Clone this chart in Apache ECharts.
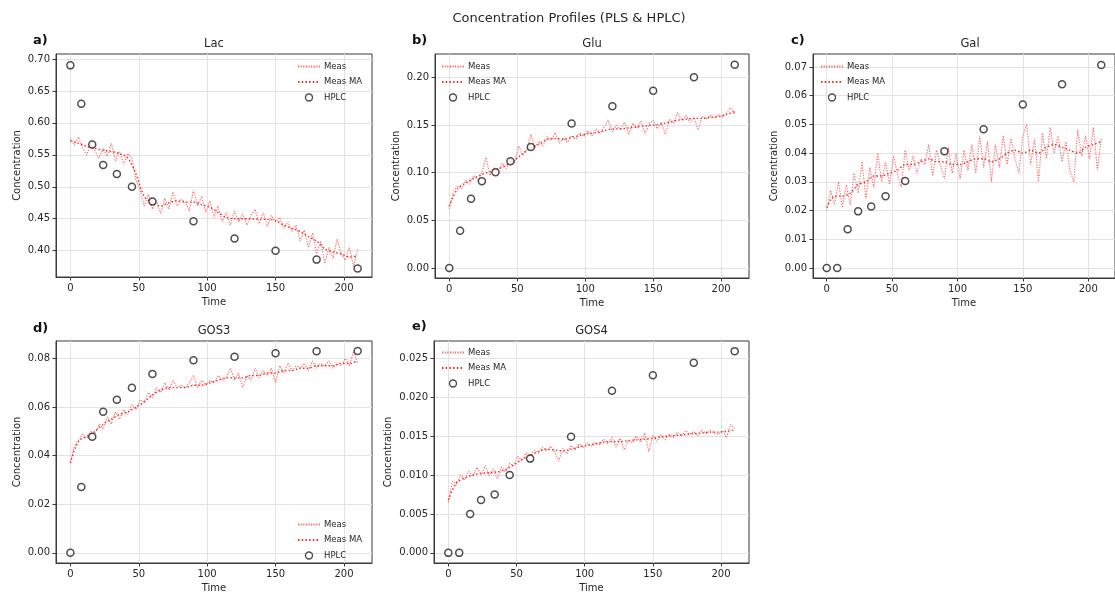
<!DOCTYPE html>
<html>
<head>
<meta charset="utf-8">
<script src="https://cdn.jsdelivr.net/npm/echarts@6/dist/echarts.min.js"></script>
<style>
html,body{margin:0;padding:0;background:#fff;}
#chart{width:1115px;height:594px;}
</style>
</head>
<body>
<div id="chart"></div>
<script>
// ---------- data ----------
const tMeas = [0,3,6,9,12,15,18,21,24,27,30,33,36,39,42,45,48,51,54,57,60,63,66,69,72,75,78,81,84,87,90,93,96,99,102,105,108,111,114,117,120,123,126,129,132,135,138,141,144,147,150,153,156,159,162,165,168,171,174,177,180,183,186,189,192,195,198,201,204,207,210];
const tMA = [0,6,12,18,24,30,36,42,48,54,60,66,72,78,84,90,96,102,108,114,120,126,132,138,144,150,156,162,168,174,180,186,192,198,204,210];
const tHPLC = [0,8,16,24,34,45,60,90,120,150,180,210];

const lacMeas = [0.576,0.565,0.578,0.560,0.550,0.568,0.556,0.545,0.560,0.548,0.568,0.540,0.555,0.535,0.552,0.545,0.510,0.495,0.470,0.488,0.465,0.478,0.458,0.482,0.465,0.492,0.470,0.480,0.476,0.462,0.495,0.470,0.485,0.460,0.478,0.452,0.470,0.445,0.460,0.440,0.462,0.445,0.458,0.440,0.455,0.465,0.442,0.460,0.438,0.455,0.445,0.452,0.435,0.445,0.430,0.440,0.415,0.432,0.405,0.428,0.395,0.415,0.380,0.405,0.388,0.418,0.395,0.385,0.405,0.375,0.402];
const lacMA = [0.572,0.568,0.563,0.560,0.557,0.555,0.552,0.545,0.520,0.485,0.475,0.470,0.475,0.478,0.476,0.476,0.472,0.468,0.460,0.452,0.450,0.450,0.450,0.449,0.449,0.447,0.440,0.435,0.430,0.422,0.415,0.403,0.398,0.395,0.390,0.392];
const lacHPLC = [0.690,0.630,0.566,0.534,0.520,0.500,0.477,0.446,0.419,0.400,0.386,0.372];

const gluMeas = [0.062,0.080,0.086,0.083,0.092,0.088,0.097,0.092,0.100,0.116,0.097,0.105,0.100,0.110,0.104,0.115,0.110,0.128,0.118,0.124,0.140,0.126,0.133,0.128,0.138,0.134,0.142,0.131,0.136,0.132,0.139,0.135,0.142,0.138,0.144,0.139,0.146,0.141,0.148,0.155,0.143,0.150,0.145,0.153,0.140,0.152,0.147,0.154,0.141,0.151,0.155,0.146,0.153,0.140,0.156,0.152,0.163,0.155,0.160,0.153,0.158,0.145,0.159,0.156,0.160,0.157,0.161,0.158,0.163,0.168,0.162];
const gluMA = [0.065,0.083,0.089,0.094,0.098,0.101,0.104,0.108,0.113,0.120,0.126,0.130,0.135,0.136,0.135,0.137,0.139,0.141,0.142,0.144,0.146,0.146,0.147,0.148,0.149,0.150,0.151,0.153,0.155,0.156,0.157,0.157,0.158,0.159,0.161,0.164];
const gluHPLC = [0.000,0.039,0.0726,0.0911,0.1005,0.112,0.127,0.1515,0.1696,0.186,0.200,0.2133];

const galMeas = [0.020,0.027,0.022,0.030,0.021,0.029,0.022,0.033,0.026,0.037,0.024,0.035,0.028,0.040,0.030,0.037,0.029,0.039,0.033,0.028,0.041,0.034,0.039,0.033,0.038,0.036,0.043,0.032,0.041,0.036,0.031,0.042,0.033,0.040,0.031,0.041,0.034,0.043,0.033,0.046,0.035,0.044,0.030,0.043,0.035,0.046,0.036,0.045,0.038,0.033,0.046,0.050,0.036,0.045,0.030,0.047,0.038,0.049,0.040,0.046,0.037,0.044,0.034,0.030,0.048,0.039,0.046,0.038,0.049,0.034,0.045];
const galMA = [0.021,0.025,0.025,0.026,0.029,0.030,0.032,0.032,0.033,0.034,0.036,0.036,0.037,0.038,0.037,0.037,0.036,0.036,0.037,0.038,0.038,0.037,0.038,0.040,0.041,0.040,0.041,0.040,0.042,0.043,0.042,0.041,0.040,0.042,0.043,0.044];
const galHPLC = [0.000,0.000,0.0135,0.0197,0.0214,0.0250,0.0303,0.0406,0.0483,0.0569,0.0640,0.0707];

const gos3Meas = [0.037,0.044,0.046,0.049,0.047,0.050,0.049,0.053,0.051,0.056,0.053,0.058,0.055,0.059,0.057,0.061,0.059,0.063,0.062,0.066,0.064,0.068,0.066,0.070,0.067,0.071,0.068,0.069,0.068,0.070,0.073,0.068,0.071,0.069,0.071,0.070,0.073,0.071,0.072,0.076,0.071,0.074,0.068,0.073,0.071,0.076,0.072,0.075,0.073,0.076,0.070,0.077,0.074,0.078,0.075,0.077,0.076,0.078,0.075,0.079,0.076,0.078,0.077,0.079,0.076,0.078,0.077,0.080,0.077,0.083,0.078];
const gos3MA = [0.037,0.046,0.048,0.050,0.053,0.055,0.057,0.058,0.060,0.062,0.065,0.067,0.068,0.068,0.068,0.069,0.069,0.070,0.071,0.072,0.072,0.072,0.073,0.073,0.074,0.074,0.075,0.075,0.076,0.076,0.077,0.077,0.077,0.078,0.078,0.079];
const gos3HPLC = [0.000,0.0271,0.0478,0.0581,0.0630,0.0680,0.0736,0.0793,0.0807,0.0822,0.0830,0.0831];

const gos4Meas = [0.0065,0.0092,0.0088,0.0100,0.0094,0.0105,0.0098,0.0110,0.0100,0.0112,0.0099,0.0108,0.0095,0.0110,0.0104,0.0115,0.0112,0.0124,0.0118,0.0128,0.0125,0.0132,0.0128,0.0136,0.0131,0.0137,0.0129,0.0118,0.0134,0.0127,0.0138,0.0132,0.0140,0.0135,0.0141,0.0137,0.0142,0.0139,0.0146,0.0140,0.0148,0.0136,0.0147,0.0132,0.0145,0.0141,0.0150,0.0142,0.0154,0.0130,0.0151,0.0143,0.0152,0.0145,0.0153,0.0148,0.0155,0.0150,0.0157,0.0152,0.0156,0.0150,0.0158,0.0153,0.0157,0.0154,0.0152,0.0157,0.0148,0.0165,0.0160];
const gos4MA = [0.0068,0.0090,0.0096,0.0100,0.0102,0.0103,0.0104,0.0107,0.0113,0.0120,0.0125,0.0130,0.0133,0.0132,0.0131,0.0133,0.0136,0.0138,0.0140,0.0142,0.0143,0.0143,0.0144,0.0145,0.0146,0.0147,0.0149,0.0150,0.0151,0.0152,0.0153,0.0154,0.0155,0.0155,0.0156,0.0158];
const gos4HPLC = [0.000,0.000,0.0050,0.0068,0.0075,0.0100,0.0121,0.0149,0.0208,0.0228,0.0244,0.0259];

const xTicks = [0,50,100,150,200];
const lacTicks = [0.40,0.45,0.50,0.55,0.60,0.65,0.70];
const gluTicks = [0.00,0.05,0.10,0.15,0.20];
const galTicks = [0.00,0.01,0.02,0.03,0.04,0.05,0.06,0.07];
const gos3Ticks = [0.00,0.02,0.04,0.06,0.08];
const gos4Ticks = [0.000,0.005,0.010,0.015,0.020,0.025];

const titles = ['Lac','Glu','Gal','GOS3','GOS4'];
const letters = ['a)','b)','c)','d)','e)'];

// ---------- layout ----------
const panels = [
  {grid:{left:56, top:54, width:316, height:223}, ymin:0.3588, ymax:0.7078, dec:2, ticks:lacTicks, meas:lacMeas, ma:lacMA, hplc:lacHPLC, split:5, nameGap:34,
   legend:{left:297, top:62}, letter:[33,41]},
  {grid:{left:435, top:54, width:314, height:224}, ymin:-0.0105, ymax:0.2245, dec:2, ticks:gluTicks, meas:gluMeas, ma:gluMA, hplc:gluHPLC, split:5, nameGap:34,
   legend:{left:441, top:62}, letter:[412,41]},
  {grid:{left:813, top:54, width:314, height:224}, ymin:-0.0035, ymax:0.0745, dec:2, ticks:galTicks, meas:galMeas, ma:galMA, hplc:galHPLC, split:8, nameGap:34,
   legend:{left:820, top:62}, letter:[791,41]},
  {grid:{left:56, top:341, width:316, height:223}, ymin:-0.0042, ymax:0.0872, dec:2, ticks:gos3Ticks, meas:gos3Meas, ma:gos3MA, hplc:gos3HPLC, split:5, nameGap:34,
   legend:{left:297, top:520}, letter:[33,329]},
  {grid:{left:434, top:341, width:315, height:224}, ymin:-0.0013, ymax:0.0272, dec:3, ticks:gos4Ticks, meas:gos4Meas, ma:gos4MA, hplc:gos4HPLC, split:5, nameGap:41,
   legend:{left:441, top:348}, letter:[412,327]}
];

const FONT = 'DejaVu Sans';
const textCol = '#262626';
const measCol = '#ff6464';
const maCol = '#ee2c2c';

function tickFormatter(ticks, dec) {
  return function (v) {
    for (const t of ticks) { if (Math.abs(t - v) < 1e-7) return t.toFixed(dec); }
    return '';
  };
}

const grids = [], xAxes = [], yAxes = [], series = [], legends = [], graphics = [];

graphics.push({type:'text', x:569, y:19, style:{text:'Concentration Profiles (PLS & HPLC)', font:'13px "DejaVu Sans"', fill:textCol, textAlign:'center', textVerticalAlign:'middle'}});

panels.forEach((p, i) => {
  grids.push(Object.assign({show:true, borderColor:'#3a3a3a', borderWidth:1, backgroundColor:'transparent'}, p.grid));
  const cx = p.grid.left + p.grid.width/2;
  graphics.push({type:'text', x:cx, y:p.grid.top-10, style:{text:titles[i], font:'11.5px "DejaVu Sans"', fill:textCol, textAlign:'center', textVerticalAlign:'middle'}});
  graphics.push({type:'text', x:p.letter[0], y:p.letter[1], style:{text:letters[i], font:'bold 13px "DejaVu Sans"', fill:'#111', textAlign:'left', textVerticalAlign:'middle'}});
  xAxes.push({
    type:'value', gridIndex:i, min:-10.5, max:220.5, splitNumber:5,
    name:'Time', nameLocation:'middle', nameGap:20,
    nameTextStyle:{fontFamily:FONT, fontSize:10, color:textCol},
    axisLine:{show:true, onZero:false, lineStyle:{color:'#3a3a3a', width:1}},
    axisTick:{show:true, inside:false, length:3.5, lineStyle:{color:'#3a3a3a'}, customValues:xTicks},
    axisLabel:{fontFamily:FONT, fontSize:10, color:textCol, margin:6, customValues:xTicks, formatter:tickFormatter(xTicks,0)},
    splitLine:{show:true, lineStyle:{color:'#e3e3e3', width:1}}
  });
  yAxes.push({
    type:'value', gridIndex:i, min:p.ymin, max:p.ymax, splitNumber:p.split,
    name:'Concentration', nameLocation:'middle', nameGap:p.nameGap,
    nameTextStyle:{fontFamily:FONT, fontSize:10, color:textCol},
    axisLine:{show:true, onZero:false, lineStyle:{color:'#3a3a3a', width:1}},
    axisTick:{show:true, inside:false, length:3.5, lineStyle:{color:'#3a3a3a'}, customValues:p.ticks},
    axisLabel:{fontFamily:FONT, fontSize:10, color:textCol, margin:6, customValues:p.ticks, formatter:tickFormatter(p.ticks,p.dec)},
    splitLine:{show:true, lineStyle:{color:'#e3e3e3', width:1}}
  });
  series.push({
    name:'Meas', type:'line', xAxisIndex:i, yAxisIndex:i, symbol:'none', silent:true, animation:false,
    data:tMeas.map((t,k)=>[t,p.meas[k]]),
    lineStyle:{color:measCol, width:1.1, type:[1.2,1.4], opacity:1}, itemStyle:{color:measCol}, z:2
  });
  series.push({
    name:'Meas MA', type:'line', xAxisIndex:i, yAxisIndex:i, symbol:'none', silent:true, animation:false, smooth:0.3,
    data:tMA.map((t,k)=>[t,p.ma[k]]),
    lineStyle:{color:maCol, width:1.4, type:[1.5,2.2]}, itemStyle:{color:maCol}, z:3
  });
  series.push({
    name:'HPLC', type:'scatter', xAxisIndex:i, yAxisIndex:i, symbol:'circle', symbolSize:7, silent:true, animation:false,
    data:tHPLC.map((t,k)=>[t,p.hplc[k]]),
    itemStyle:{color:'#ffffff', borderColor:'#222', borderWidth:1.5}, z:5
  });
  legends.push({
    data:[
      {name:'Meas', itemStyle:{opacity:0}},
      {name:'Meas MA', itemStyle:{opacity:0}},
      {name:'HPLC', itemStyle:{borderWidth:1.4}}
    ],
    orient:'vertical', left:p.legend.left, top:p.legend.top,
    itemWidth:22, itemHeight:7, itemGap:6.5, padding:0, selectedMode:false,
    textStyle:{fontFamily:FONT, fontSize:8.5, color:textCol, padding:[0,0,0,-1]}
  });
});

const chart = echarts.init(document.getElementById('chart'), null, {renderer:'canvas'});
chart.setOption({
  backgroundColor:'#ffffff',
  animation:false,
  grid:grids, xAxis:xAxes, yAxis:yAxes, series:series, legend:legends,
  graphic:graphics
});
</script>
</body>
</html>
